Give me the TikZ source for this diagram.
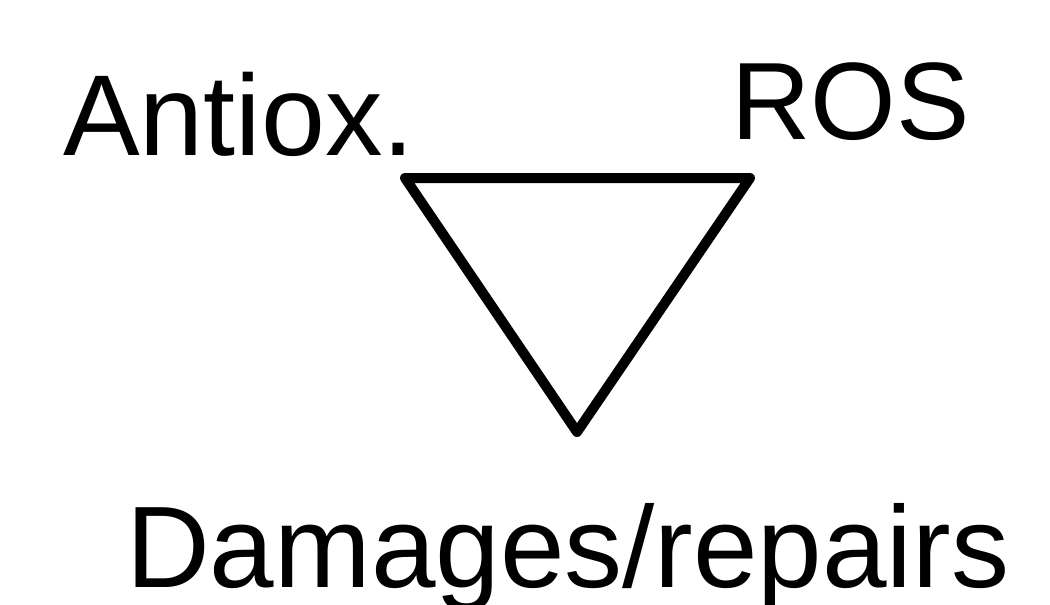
\documentclass[tikz,border=0pt]{standalone}
\usepackage{fontspec}
\setmainfont{Liberation Sans}
\begin{document}
\begin{tikzpicture}[x=1pt,y=-1pt,
  lbl/.style={anchor=base west,inner sep=0pt},
  tri/.style={line width=10pt,line join=round}]
\useasboundingbox (0,0) rectangle (1050,605);
\node[lbl,font=\fontsize{115}{120}\selectfont] (antiox) at (63,155) {Antiox.};
\node[lbl,font=\fontsize{110}{120}\selectfont] (ros) at (731,139) {ROS};
\node[lbl,font=\fontsize{116}{120}\selectfont] (dam) at (126,587) {Damages/repairs};
\coordinate (a) at (405,178);
\coordinate (b) at (750,178);
\coordinate (c) at (577,432);
\draw[tri] (a) -- (b) -- (c) -- cycle;
\end{tikzpicture}
\end{document}
